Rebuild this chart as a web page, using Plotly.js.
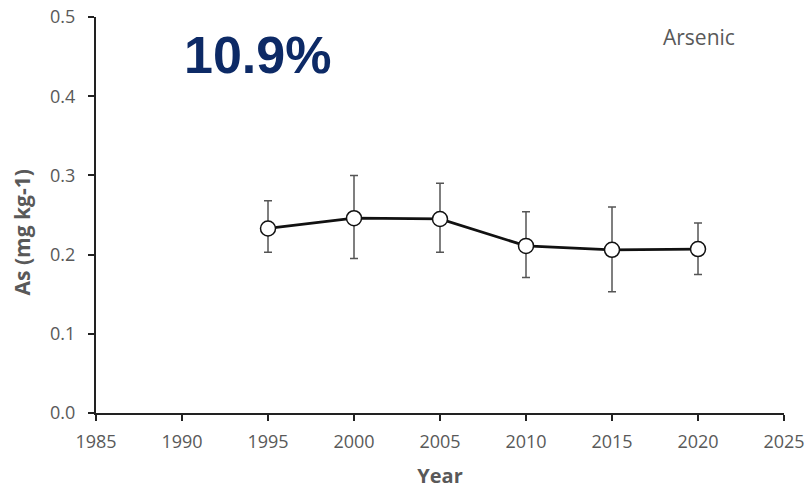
<!DOCTYPE html>
<html>
<head>
<meta charset="utf-8">
<script src="https://cdn.plot.ly/plotly-3.0.1.min.js"></script>
<style>html,body{margin:0;padding:0;background:#fff;}#chart{width:809px;height:489px;}</style>
</head>
<body>
<div id="chart"></div>
<script>
var years = [1995, 2000, 2005, 2010, 2015, 2020];
var arsenic = [0.233, 0.246, 0.245, 0.211, 0.206, 0.207];
var errUpper = [0.268, 0.300, 0.290, 0.254, 0.260, 0.240];
var errLower = [0.203, 0.195, 0.203, 0.171, 0.153, 0.175];
var xTicks = [1985, 1990, 1995, 2000, 2005, 2010, 2015, 2020, 2025];
var yTicks = [0, 0.1, 0.2, 0.3, 0.4, 0.5];
var yTickText = ['0.0', '0.1', '0.2', '0.3', '0.4', '0.5'];

var plus = errUpper.map(function(u, i){ return u - arsenic[i]; });
var minus = errLower.map(function(l, i){ return arsenic[i] - l; });

var grey = '#595959';
var tickFont = {family: 'Open Sans, sans-serif', size: 18, color: grey};

var trace = {
  x: years, y: arsenic, type: 'scatter', mode: 'lines+markers',
  line: {color: '#111111', width: 2.8},
  marker: {size: 15, color: '#ffffff', line: {color: '#111111', width: 1.5}},
  error_y: {type: 'data', symmetric: false, array: plus, arrayminus: minus,
            color: '#555555', thickness: 1.5, width: 4},
  showlegend: false, hoverinfo: 'skip'
};

var layout = {
  width: 809, height: 489,
  margin: {l: 96, r: 25, t: 17, b: 76},
  paper_bgcolor: '#ffffff', plot_bgcolor: '#ffffff',
  xaxis: {
    range: [1985, 2025], tickvals: xTicks, ticktext: xTicks.map(String),
    showgrid: false, zeroline: false, showline: true, linecolor: '#222222', linewidth: 2,
    ticks: 'outside', ticklen: 6, tickwidth: 2, tickcolor: '#222222',
    tickfont: tickFont, ticklabelstandoff: 5,
    title: {text: '<b>Year</b>', font: {family: 'Open Sans, sans-serif', size: 20, color: grey}, standoff: 19}
  },
  yaxis: {
    range: [0, 0.5], tickvals: yTicks, ticktext: yTickText,
    showgrid: false, zeroline: false, showline: true, linecolor: '#222222', linewidth: 2,
    ticks: 'outside', ticklen: 6, tickwidth: 2, tickcolor: '#222222',
    tickfont: tickFont, ticklabelstandoff: 9
  },
  annotations: [
    {text: '<b>As (mg kg-1)</b>', xref: 'paper', yref: 'paper', x: -0.107, y: 0.457,
     xanchor: 'center', yanchor: 'middle', textangle: -90, showarrow: false,
     font: {family: 'Open Sans, sans-serif', size: 21, color: grey}},
    {text: '<b>10.9%</b>', xref: 'paper', yref: 'paper', x: 0.235, y: 0.905,
     xanchor: 'center', yanchor: 'middle', showarrow: false,
     font: {family: 'Liberation Sans, Arial, sans-serif', size: 52, color: '#0d2a66'}},
    {text: 'Arsenic', xref: 'paper', yref: 'paper', x: 0.876, y: 0.95,
     xanchor: 'center', yanchor: 'middle', showarrow: false,
     font: {family: 'Open Sans, sans-serif', size: 21, color: grey}}
  ]
};

Plotly.newPlot('chart', [trace], layout, {displayModeBar: false, staticPlot: true});
</script>
</body>
</html>
